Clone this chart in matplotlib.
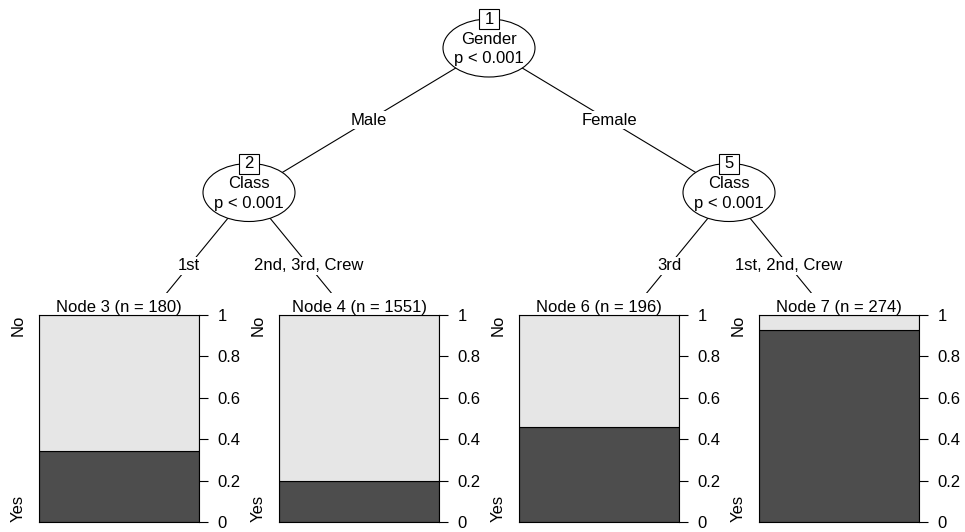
import matplotlib
matplotlib.use("Agg")
import matplotlib.pyplot as plt
from matplotlib.patches import Ellipse, Rectangle

plt.rcParams['font.family'] = ['Liberation Sans', 'DejaVu Sans']
plt.rcParams['font.size'] = 12

# tree data (Titanic ctree)
inner_ids = [1, 2, 5]
inner_vars = ["Gender", "Class", "Class"]
inner_p = ["p < 0.001", "p < 0.001", "p < 0.001"]
leaf_ids = [3, 4, 6, 7]
leaf_n = [180, 1551, 196, 274]
leaf_yes = [0.344, 0.197, 0.459, 0.927]
class_levels = ["No", "Yes"]
edges = [(1, 2, "Male"), (1, 5, "Female"),
         (2, 3, "1st"), (2, 4, "2nd, 3rd, Crew"),
         (5, 6, "3rd"), (5, 7, "1st, 2nd, Crew")]

W, H = 965, 532
dark = "#4D4D4D"
light = "#E6E6E6"

# layout in pixels
leaf_x = {3: 129, 4: 369, 6: 609, 7: 849}
leaf_top = 339
inner_y = {1: 48, 2: 192.5, 5: 192.5}


def node_x(i):
    if i in leaf_x:
        return leaf_x[i]
    kids = [c for p, c, _ in edges if p == i]
    return (node_x(kids[0]) + node_x(kids[-1])) / 2.0


def node_y(i):
    return inner_y.get(i, leaf_top)


fig = plt.figure(figsize=(W / 100, H / 100), dpi=100)
bg = fig.add_axes([0, 0, 1, 1])
bg.set_xlim(0, W)
bg.set_ylim(H, 0)
bg.axis("off")

for p, c, lab in edges:
    x0, y0 = node_x(p), node_y(p)
    x1, y1 = node_x(c), node_y(c)
    bg.plot([x0, x1], [y0, y1], color="black", lw=0.8, zorder=1)
    bg.text((x0 + x1) / 2, (y0 + y1) / 2, lab, ha="center", va="center", zorder=3,
            bbox=dict(facecolor="white", edgecolor="none", pad=1))

for i, var, pv in zip(inner_ids, inner_vars, inner_p):
    x, y = node_x(i), node_y(i)
    bg.add_patch(Ellipse((x, y), 92, 58, facecolor="white", edgecolor="black", lw=0.8, zorder=4))
    bg.text(x, y - 9, var, ha="center", va="center", zorder=5)
    bg.text(x, y + 11, pv, ha="center", va="center", zorder=5)
    bg.add_patch(Rectangle((x - 10, y - 29 - 10), 20, 20, facecolor="white",
                           edgecolor="black", lw=0.8, zorder=6))
    bg.text(x, y - 29, str(i), ha="center", va="center", zorder=7)

# white panel backgrounds for the terminal nodes
for i in leaf_ids:
    bg.add_patch(Rectangle((leaf_x[i] - 120, 293), 240, H - 293, facecolor="white",
                           edgecolor="none", zorder=2))

box_w, box_h, box_bottom = 160, 207, 522
for i, n, yes in zip(leaf_ids, leaf_n, leaf_yes):
    left = leaf_x[i] - 10 - box_w / 2
    ax = fig.add_axes([left / W, (H - box_bottom) / H, box_w / W, box_h / H])
    ax.bar([0], [yes], width=1, color=dark, edgecolor="black", lw=0.8)
    ax.bar([0], [1 - yes], bottom=[yes], width=1, color=light, edgecolor="black", lw=0.8)
    ax.set_xlim(-0.5, 0.5)
    ax.set_ylim(0, 1)
    ax.set_xticks([])
    ax.yaxis.tick_right()
    ax.set_yticks([0, 0.2, 0.4, 0.6, 0.8, 1])
    ax.set_yticklabels(["0", "0.2", "0.4", "0.6", "0.8", "1"])
    ax.tick_params(axis="y", length=6.5, width=0.8, pad=7, labelsize=12)
    for s in ax.spines.values():
        s.set_linewidth(0.8)
    ax.set_title("Node %d (n = %d)" % (i, n), fontsize=12, pad=1.5)
    ax.text(-0.13, 1, class_levels[0], rotation=90, ha="center", va="top",
            transform=ax.transAxes)
    ax.text(-0.13, 0, class_levels[1], rotation=90, ha="center", va="bottom",
            transform=ax.transAxes)

fig.savefig("out.png", dpi=100)
